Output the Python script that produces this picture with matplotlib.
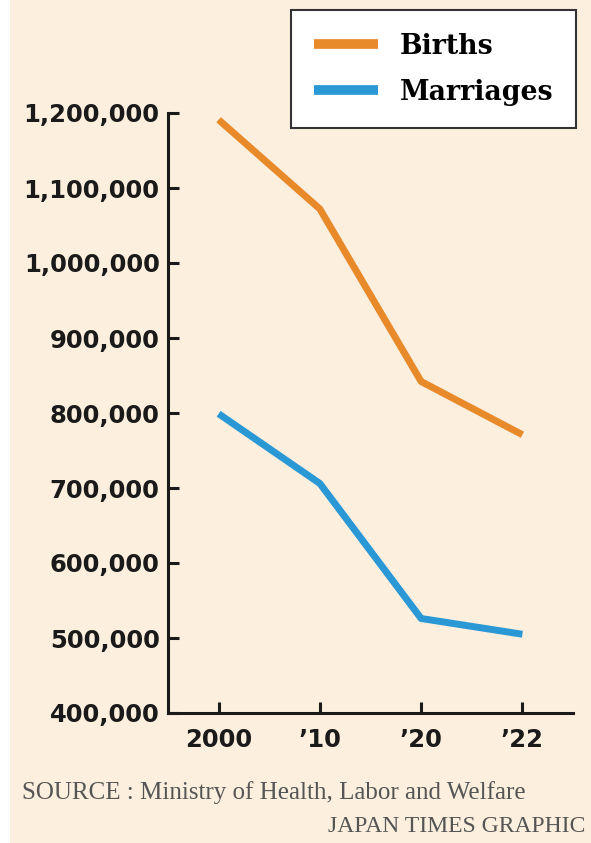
import matplotlib.pyplot as plt
from matplotlib.patches import Rectangle

years = ["2000", "\u201910", "\u201920", "\u201922"]
births = [1191000, 1072000, 842000, 771000]
marriages = [799000, 706000, 526000, 505000]
yticks = [400000, 500000, 600000, 700000, 800000, 900000, 1000000, 1100000, 1200000]

bg = "#fcefde"
orange = "#e8892a"
blue = "#2b98d6"

fig = plt.figure(figsize=(5.91, 8.43), dpi=100)
fig.patch.set_facecolor("white")
fig.patches.append(Rectangle((10 / 591, 0), 1, 1, transform=fig.transFigure,
                             facecolor=bg, edgecolor="none", zorder=-10))

ax = fig.add_axes([168 / 591, 1 - 713 / 843, (573 - 168) / 591, (713 - 113) / 843])
ax.set_facecolor(bg)

x = range(len(years))
ax.plot(x, births, color=orange, lw=5, label="Births", solid_capstyle="butt")
ax.plot(x, marriages, color=blue, lw=5, label="Marriages", solid_capstyle="butt")

ax.set_xlim(-0.5, 3.5)
ax.set_ylim(400000, 1200000)
ax.set_xticks(list(x))
ax.set_xticklabels(years)
ax.set_yticks(yticks)
ax.set_yticklabels([f"{v:,}" for v in yticks])

for s in ["top", "right"]:
    ax.spines[s].set_visible(False)
for s in ["left", "bottom"]:
    ax.spines[s].set_linewidth(2.2)
    ax.spines[s].set_color("#1a1a1a")

ax.tick_params(direction="in", length=8, width=2.2, color="#1a1a1a",
               labelsize=17.5, pad=6)
ax.tick_params(axis="x", pad=11)
for lab in ax.get_xticklabels() + ax.get_yticklabels():
    lab.set_fontweight("bold")
    lab.set_color("#1a1a1a")
    lab.set_family("DejaVu Sans")

leg = fig.legend(loc="upper right", bbox_to_anchor=(576 / 591, 1 - 10 / 843),
                 prop={"family": "DejaVu Serif", "weight": "bold", "size": 19.3},
                 frameon=True, fancybox=False, handlelength=2.4, handletextpad=0.8,
                 borderpad=0.85, labelspacing=0.7, borderaxespad=0)
leg.get_frame().set_edgecolor("#333333")
leg.get_frame().set_linewidth(1.5)
leg.get_frame().set_facecolor("white")
leg.get_frame().set_alpha(1)
for h in leg.get_lines():
    h.set_linewidth(7)

fig.text(22 / 591, 1 - 793 / 843, "SOURCE : Ministry of Health, Labor and Welfare",
         family="Liberation Serif", fontsize=18, color="#555555", va="center", ha="left")
fig.text(585 / 591, 1 - 827 / 843, "JAPAN TIMES GRAPHIC",
         family="Liberation Serif", fontsize=17, color="#555555", va="center", ha="right")

fig.savefig("out.png", dpi=100, facecolor=fig.get_facecolor())
